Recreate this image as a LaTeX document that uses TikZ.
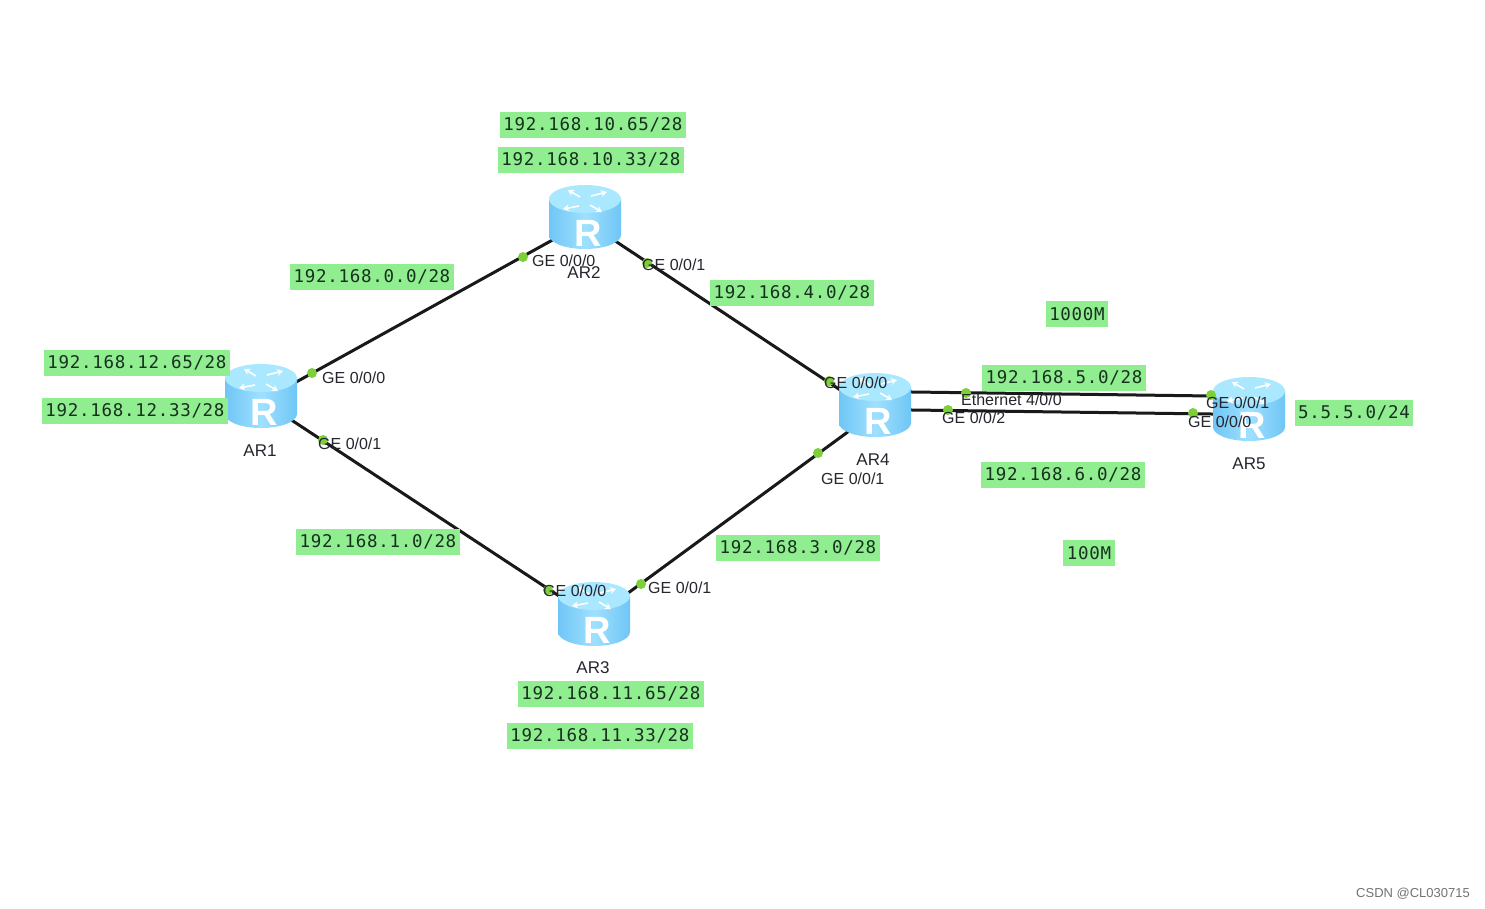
\documentclass[tikz,border=0pt]{standalone}
\usepackage{fontspec}
\setmainfont{Liberation Sans}
\newfontfamily\ipfont[LetterSpace=4]{DejaVu Sans Mono}
\usetikzlibrary{calc,arrows.meta}
\definecolor{ipgreen}{HTML}{90EE90}
\definecolor{iptext}{HTML}{17301F}
\definecolor{portgreen}{HTML}{7ED03A}
\definecolor{rtop}{HTML}{A9E8FF}
\definecolor{rlight}{HTML}{9FE0FF}
\definecolor{rdark}{HTML}{6FC6F5}
\definecolor{lbl}{HTML}{26262E}
\tikzset{
  ip/.style={fill=ipgreen,text=iptext,inner xsep=3.5pt,inner ysep=0pt,minimum height=26pt,font=\fontsize{17.5}{20}\ipfont},
  lab/.style={text=lbl,inner sep=0pt,font=\fontsize{16}{18}\selectfont},
  rname/.style={text=lbl,inner sep=0pt,font=\fontsize{17}{19}\selectfont},
  rbox/.style={inner sep=0pt,minimum width=72pt,minimum height=64pt},
  port/.style={circle,fill=portgreen,inner sep=0pt,minimum size=10pt},
  wire/.style={draw=black!90,line width=3pt},
  pics/router/.style={code={
    \path[left color=rdark,right color=rdark,middle color=rlight]
      (-36,-18) -- (-36,18) arc[start angle=180,end angle=0,x radius=36,y radius=14] -- (36,-18) -- cycle;
    \fill[rtop] (0,-18) ellipse[x radius=36,y radius=14];
    \begin{scope}[white,line width=1.6pt,-{Stealth[length=6pt,width=7pt]}]
      \draw (-5,-20) -- (-17,-27);
      \draw (5,-12) -- (17,-5);
      \draw (6,-21) -- (22,-25);
      \draw (-6,-11) -- (-22,-8);
    \end{scope}
    \node[white,inner sep=0pt,font=\fontsize{38}{38}\bfseries] at (3,16) {R};
  }}
}
\begin{document}
\begin{tikzpicture}[x=1pt,y=-1pt]
\useasboundingbox[fill=white] (0,0) rectangle (1485,908);
% router frames
\node[rbox] (ar1) at (261,396) {};
\node[rbox] (ar2) at (585,217) {};
\node[rbox] (ar3) at (594,614) {};
\node[rbox] (ar4) at (875,405) {};
\node[rbox] (ar5) at (1249,409) {};
% wires (canvas yshift: negative is downwards)
\draw[wire] ([yshift=-5.5pt]ar1.center) -- ([yshift=-5pt]ar2.center);
\draw[wire] ([yshift=-4pt]ar2.center) -- ([yshift=-8pt]ar4.center);
\draw[wire] ([yshift=-4pt]ar1.center) -- ([yshift=-5pt]ar3.center);
\draw[wire] ([yshift=-4pt]ar3.center) -- ([yshift=-7pt]ar4.center);
\draw[wire] ([yshift=13.5pt]ar4.center) -- ([yshift=12.5pt]ar5.center);
\draw[wire] ([yshift=-4.5pt]ar4.center) -- ([yshift=-5.5pt]ar5.center);
% routers
\pic at (ar1) {router};
\pic at (ar2) {router};
\pic at (ar3) {router};
\pic at (ar4) {router};
\pic at (ar5) {router};
% ports
\node[port] (p1) at (312,373) {};
\node[port] (p2) at (323,440) {};
\node[port] (p3) at (523,257) {};
\node[port] (p4) at (647,263) {};
\node[port] (p5) at (548,590) {};
\node[port] (p6) at (641,584) {};
\node[port] (p7) at (829,381) {};
\node[port] (p8) at (818,453) {};
\node[port] (p9) at (966,393) {};
\node[port] (p10) at (948,410) {};
\node[port] (p11) at (1211,395) {};
\node[port] (p12) at (1193,413) {};
% port labels
\node[lab,anchor=west] (l1) at (322,378) {GE 0/0/0};
\node[lab,anchor=west] (l2) at (318,444) {GE 0/0/1};
\node[lab,anchor=west] (l3) at (532,261) {GE 0/0/0};
\node[lab,anchor=west] (l4) at (642,265) {GE 0/0/1};
\node[lab,anchor=west] (l5) at (543,591) {GE 0/0/0};
\node[lab,anchor=west] (l6) at (648,588) {GE 0/0/1};
\node[lab,anchor=west] (l7) at (824,383) {GE 0/0/0};
\node[lab,anchor=west] (l8) at (821,479) {GE 0/0/1};
\node[lab,anchor=west] (l9) at (961,400) {Ethernet 4/0/0};
\node[lab,anchor=west] (l10) at (942,418) {GE 0/0/2};
\node[lab,anchor=west] (l11) at (1206,403) {GE 0/0/1};
\node[lab,anchor=west] (l12) at (1188,422) {GE 0/0/0};
% router names
\node[rname] (n1) at (260,451) {AR1};
\node[rname] (n2) at (584,273) {AR2};
\node[rname] (n3) at (593,668) {AR3};
\node[rname] (n4) at (873,460) {AR4};
\node[rname] (n5) at (1249,464) {AR5};
% address boxes
\node[ip] (a1) at (593,125) {192.168.10.65/28};
\node[ip] (a2) at (591,160) {192.168.10.33/28};
\node[ip] (a3) at (372,277) {192.168.0.0/28};
\node[ip] (a4) at (792,293) {192.168.4.0/28};
\node[ip] (a5) at (1077,314) {1000M};
\node[ip] (a6) at (137,363) {192.168.12.65/28};
\node[ip] (a7) at (135,411) {192.168.12.33/28};
\node[ip] (a8) at (1064,378) {192.168.5.0/28};
\node[ip] (a9) at (1354,413) {5.5.5.0/24};
\node[ip] (a10) at (1063,475) {192.168.6.0/28};
\node[ip] (a11) at (378,542) {192.168.1.0/28};
\node[ip] (a12) at (798,548) {192.168.3.0/28};
\node[ip] (a13) at (1089,553) {100M};
\node[ip] (a14) at (611,694) {192.168.11.65/28};
\node[ip] (a15) at (600,736) {192.168.11.33/28};
% watermark
\node[text=black!55,inner sep=0pt,font=\fontsize{13}{15}\selectfont] (wm) at (1413,894) {CSDN @CL030715};
\end{tikzpicture}
\end{document}
